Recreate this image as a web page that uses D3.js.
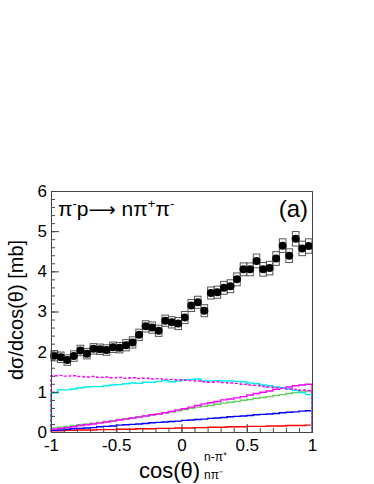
<!DOCTYPE html>
<html>
<head>
<meta charset="utf-8">
<script src="https://cdn.jsdelivr.net/npm/d3@7"></script>
<style>
  html, body { margin: 0; padding: 0; background: #fff; }
  svg { display: block; font-family: "Liberation Sans", Arial, Helvetica, sans-serif; }
</style>
</head>
<body>
<svg id="chart" width="374" height="484"></svg>
<script>
// 40 bins of cos(theta) from -1 to 1
const binEdgesLo = d3.range(40).map(i => -1 + i * 0.05);

// measured cross section (black points) and its systematic box half-height
const dataValues = [1.90, 1.86, 1.79, 1.89, 2.03, 1.95, 2.07, 2.06, 2.04, 2.11,
                    2.10, 2.16, 2.23, 2.42, 2.63, 2.60, 2.52, 2.77, 2.73, 2.70,
                    2.85, 3.15, 3.23, 3.02, 3.46, 3.48, 3.59, 3.63, 3.80, 4.05,
                    4.05, 4.26, 4.05, 4.08, 4.32, 4.64, 4.39, 4.81, 4.57, 4.63];
const dataSyst = [0.13, 0.13, 0.13, 0.13, 0.13, 0.13, 0.13, 0.13, 0.13, 0.13,
                  0.13, 0.14, 0.14, 0.14, 0.14, 0.14, 0.14, 0.14, 0.14, 0.15,
                  0.15, 0.15, 0.15, 0.15, 0.15, 0.15, 0.16, 0.16, 0.16, 0.16,
                  0.16, 0.17, 0.17, 0.17, 0.17, 0.17, 0.17, 0.18, 0.18, 0.18];

// model components (histograms)
const magentaDashed = [1.40, 1.41, 1.39, 1.40, 1.38, 1.37, 1.38, 1.36, 1.37, 1.35,
                       1.36, 1.34, 1.35, 1.33, 1.34, 1.32, 1.33, 1.31, 1.31, 1.30,
                       1.29, 1.28, 1.27, 1.25, 1.24, 1.25, 1.23, 1.22, 1.21, 1.19,
                       1.17, 1.16, 1.14, 1.12, 1.10, 1.09, 1.07, 1.06, 1.04, 1.03];
const cyanLine = [0.97, 1.05, 1.05, 1.07, 1.10, 1.12, 1.13, 1.13, 1.15, 1.17,
                  1.18, 1.20, 1.22, 1.21, 1.24, 1.24, 1.26, 1.28, 1.25, 1.27,
                  1.30, 1.31, 1.32, 1.27, 1.27, 1.28, 1.27, 1.27, 1.26, 1.25,
                  1.22, 1.20, 1.17, 1.15, 1.12, 1.10, 1.07, 1.03, 0.98, 0.93];
const magentaLine = [0.07, 0.09, 0.11, 0.13, 0.16, 0.18, 0.20, 0.22, 0.25, 0.27,
                     0.30, 0.32, 0.35, 0.37, 0.40, 0.43, 0.45, 0.48, 0.51, 0.55,
                     0.58, 0.62, 0.66, 0.70, 0.73, 0.76, 0.80, 0.82, 0.85, 0.88,
                     0.92, 0.96, 0.99, 1.02, 1.06, 1.09, 1.12, 1.15, 1.17, 1.19];
const greenLine = [0.10, 0.12, 0.14, 0.16, 0.18, 0.20, 0.22, 0.24, 0.26, 0.28,
                   0.31, 0.33, 0.35, 0.38, 0.40, 0.42, 0.44, 0.47, 0.50, 0.53,
                   0.56, 0.59, 0.62, 0.64, 0.66, 0.69, 0.72, 0.74, 0.76, 0.79,
                   0.81, 0.84, 0.86, 0.88, 0.91, 0.93, 0.96, 0.98, 1.00, 1.02];
const blueLine = [0.04, 0.05, 0.07, 0.08, 0.09, 0.10, 0.11, 0.13, 0.14, 0.15,
                  0.17, 0.18, 0.19, 0.20, 0.21, 0.23, 0.24, 0.25, 0.26, 0.27,
                  0.29, 0.30, 0.31, 0.32, 0.34, 0.35, 0.36, 0.38, 0.39, 0.40,
                  0.41, 0.43, 0.44, 0.45, 0.46, 0.48, 0.49, 0.50, 0.52, 0.53];
const redLine = [0.03, 0.03, 0.04, 0.04, 0.05, 0.05, 0.05, 0.06, 0.06, 0.06,
                 0.07, 0.07, 0.07, 0.08, 0.08, 0.08, 0.09, 0.09, 0.09, 0.10,
                 0.10, 0.10, 0.11, 0.11, 0.12, 0.12, 0.12, 0.13, 0.13, 0.13,
                 0.14, 0.14, 0.14, 0.15, 0.15, 0.15, 0.16, 0.16, 0.16, 0.17];

const xMajorTicks = [-1, -0.5, 0, 0.5, 1];
const xTickLabels = ["-1", "-0.5", "0", "0.5", "1"];
const yMajorTicks = [0, 1, 2, 3, 4, 5, 6];

const binWidth = 0.05;

const svg = d3.select("#chart");
const frame = {left: 51, right: 312, top: 191, bottom: 432};

const x = d3.scaleLinear().domain([-1, 1]).range([frame.left, frame.right]);
const y = d3.scaleLinear().domain([0, 6]).range([frame.bottom, frame.top]);

// histograms
const histos = [
    {values: redLine, color: "#ff0000", dash: null},
    {values: blueLine, color: "#0000ff", dash: null},
    {values: greenLine, color: "#66cc66", dash: null},
    {values: magentaLine, color: "#ff00ff", dash: null},
    {values: cyanLine, color: "#00f0f0", dash: null},
    {values: magentaDashed, color: "#ff00ff", dash: "3,2"}
];

function histPath(values) {
    let p = d3.path();
    p.moveTo(x(-1), y(0));
    values.forEach((v, i) => {
        p.lineTo(x(binEdgesLo[i]), y(v));
        p.lineTo(x(binEdgesLo[i] + binWidth), y(v));
    });
    p.lineTo(x(1), y(0));
    return p.toString();
}

svg.append("g").selectAll("path")
    .data(histos)
    .join("path")
    .attr("d", d => histPath(d.values))
    .attr("fill", "none")
    .attr("stroke", d => d.color)
    .attr("stroke-width", 1.4)
    .attr("stroke-dasharray", d => d.dash);

// systematic boxes
svg.append("g").selectAll("rect")
    .data(dataValues)
    .join("rect")
    .attr("x", (d, i) => x(binEdgesLo[i]))
    .attr("width", (d, i) => x(binEdgesLo[i] + binWidth) - x(binEdgesLo[i]))
    .attr("y", (d, i) => y(d + dataSyst[i]))
    .attr("height", (d, i) => y(d - dataSyst[i]) - y(d + dataSyst[i]))
    .attr("fill", "none")
    .attr("stroke", "#555")
    .attr("stroke-width", 1);

// data points
svg.append("g").selectAll("circle")
    .data(dataValues)
    .join("circle")
    .attr("cx", (d, i) => x(binEdgesLo[i] + binWidth / 2))
    .attr("cy", d => y(d))
    .attr("r", 4)
    .attr("fill", "#000");

// axes
const xAxis = svg.append("g")
    .attr("transform", `translate(0,${frame.bottom})`)
    .call(d3.axisBottom(x).tickValues(xMajorTicks).tickSize(-8).tickPadding(7)
        .tickFormat((d, i) => xTickLabels[i]));
svg.append("g")
    .attr("transform", `translate(0,${frame.bottom})`)
    .call(d3.axisBottom(x).tickValues(d3.range(-10, 11).map(v => v / 10)).tickSize(-4).tickFormat(""));

const yAxis = svg.append("g")
    .attr("transform", `translate(${frame.left},0)`)
    .call(d3.axisLeft(y).tickValues(yMajorTicks).tickSize(-8).tickPadding(4).tickFormat(d3.format("d")));
svg.append("g")
    .attr("transform", `translate(${frame.left},0)`)
    .call(d3.axisLeft(y).tickValues(d3.range(0, 31).map(v => v / 5)).tickSize(-4).tickFormat(""));

svg.selectAll(".domain").remove();
svg.selectAll(".tick line").attr("stroke", "#444");
xAxis.selectAll("text").attr("font-size", 17).attr("fill", "#000")
    .attr("font-family", "Liberation Sans, Arial, sans-serif");
yAxis.selectAll("text").attr("font-size", 17).attr("fill", "#000")
    .attr("font-family", "Liberation Sans, Arial, sans-serif");

// frame
svg.append("rect")
    .attr("x", frame.left + 0.5)
    .attr("y", frame.top + 0.5)
    .attr("width", frame.right - frame.left)
    .attr("height", frame.bottom - frame.top)
    .attr("fill", "none")
    .attr("stroke", "#444")
    .attr("stroke-width", 1);

// reaction label
let t = svg.append("text").attr("x", 58).attr("y", 216).attr("font-size", 21);
t.append("tspan").text("π");
t.append("tspan").attr("font-size", 13).attr("dy", -8).text("-");
t.append("tspan").attr("dy", 8).text("p");
t.append("tspan").attr("font-family", "DejaVu Sans").attr("font-size", 19).text("⟶");
t.append("tspan").text(" nπ");
t.append("tspan").attr("font-size", 13).attr("dy", -8).text("+");
t.append("tspan").attr("dy", 8).text("π");
t.append("tspan").attr("font-size", 13).attr("dy", -8).text("-");

svg.append("text")
    .attr("x", 308).attr("y", 217)
    .attr("text-anchor", "end")
    .attr("font-size", 24)
    .text("(a)");

// axis titles
svg.append("text")
    .attr("transform", "translate(23,310) rotate(-90)")
    .attr("text-anchor", "middle")
    .attr("font-size", 20)
    .text("dσ/dcos(θ) [mb]");

svg.append("text").attr("x", 139).attr("y", 478).attr("font-size", 22).text("cos(θ)");
svg.append("text").attr("x", 204).attr("y", 461).attr("font-size", 12).text("n-π⁺");
svg.append("text").attr("x", 204).attr("y", 479).attr("font-size", 12).text("nπ⁻");
</script>
</body>
</html>
